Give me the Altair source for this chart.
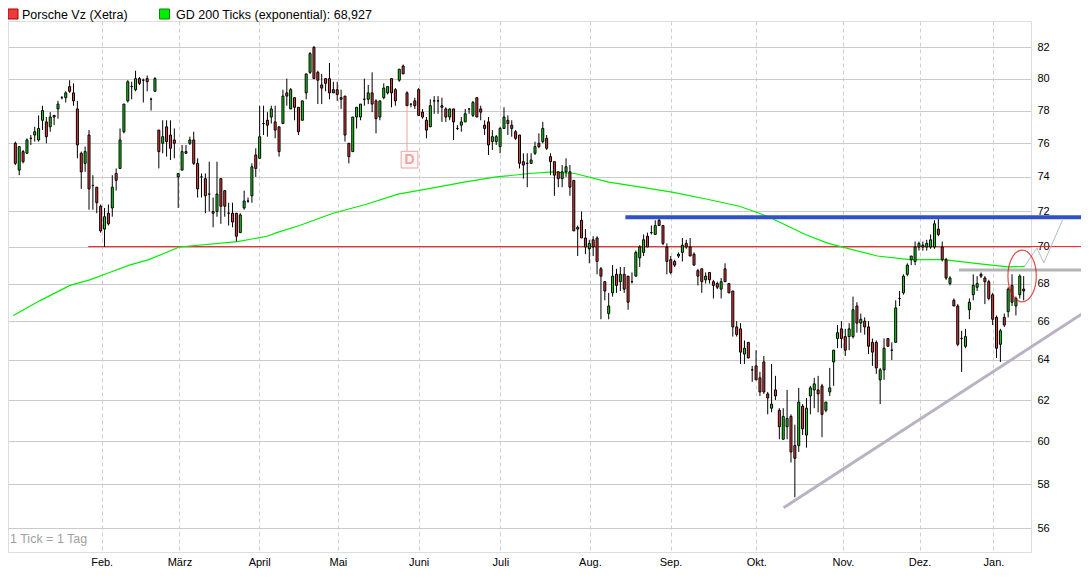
import altair as alt
import pandas as pd

# ---------------- candle data ----------------
opens = [76.0, 74.4, 75.5, 75.4, 76.3, 76.5, 76.2, 77.4, 77.3, 77.0,
         77.7, 78.1, 78.8, 78.8, 79.5, 79.1, 78.1, 75.4, 74.8, 76.5,
         73.5, 73.4, 72.3, 71.0, 71.9, 72.2, 74.2, 74.5, 76.7, 78.6,
         79.5, 79.3, 80.0, 79.9, 80.0, 78.7, 79.2, 76.8, 76.0, 77.0,
         76.5, 76.2, 74.0, 74.4, 75.5, 76.0, 76.2, 74.8, 74.0, 73.9,
         73.0, 72.0, 72.0, 73.9, 73.2, 71.9, 71.9, 71.9, 70.8, 72.2,
         72.6, 72.9, 75.3, 75.1, 77.2, 77.4, 77.6, 77.3, 77.0, 77.2,
         79.1, 78.1, 78.8, 78.2, 77.4, 79.1, 80.4, 82.0, 80.4, 79.6,
         80.0, 80.0, 79.3, 79.3, 78.8, 78.9, 76.0, 75.5, 77.6, 77.6,
         78.7, 78.7, 79.1, 78.6, 77.6, 78.8, 79.1, 80.0, 79.3, 79.9,
         80.8, 79.1, 78.4, 78.6, 79.3, 77.9, 77.4, 77.0, 78.6, 78.6,
         78.3, 78.1, 77.6, 78.1, 76.9, 77.1, 77.3, 78.1, 77.7, 78.8,
         78.1, 77.1, 77.3, 76.1, 76.1, 75.8, 76.9, 77.4, 77.1, 76.7,
         76.5, 74.9, 74.8, 74.8, 75.4, 76.0, 76.1, 76.3, 75.2, 74.9,
         74.3, 73.9, 74.3, 74.3, 73.8, 71.0, 71.5, 70.5, 69.9, 70.4,
         70.5, 68.8, 68.1, 66.4, 67.5, 68.5, 68.1, 68.5, 68.4, 68.1,
         68.4, 69.4, 69.7, 70.6, 70.8, 70.7, 71.5, 71.2, 70.0, 69.3,
         69.2, 69.5, 69.7, 70.2, 70.0, 69.6, 68.7, 68.8, 68.2, 68.6,
         68.1, 68.0, 67.7, 68.8, 68.0, 67.6, 65.7, 65.6, 64.3, 64.9,
         63.5, 63.7, 63.1, 63.9, 62.3, 61.6, 62.5, 61.5, 60.1, 60.7,
         61.2, 59.8, 59.8, 61.7, 60.3, 62.2, 62.5, 62.5, 62.7, 61.5,
         62.4, 63.9, 65.1, 65.6, 65.2, 65.2, 65.2, 66.8, 65.9, 66.0,
         65.7, 64.9, 64.9, 63.0, 63.5, 65.1, 64.5, 64.9, 67.2, 67.5,
         68.5, 69.3, 69.2, 70.0, 70.1, 70.0, 70.0, 70.0, 71.0, 70.0,
         69.3, 68.0, 67.1, 66.8, 65.1, 64.7, 66.6, 67.4, 67.8, 68.5,
         68.3, 68.1, 67.4, 66.2, 64.8, 66.2, 66.5, 67.9, 66.8, 67.4,
         67.7]
highs = [76.1, 75.8, 75.6, 76.3, 76.5, 77.0, 77.7, 78.3, 77.6, 77.9,
         77.7, 78.6, 78.9, 79.2, 79.9, 79.7, 78.6, 75.5, 75.8, 76.8,
         74.1, 73.4, 72.4, 72.2, 72.4, 74.1, 74.5, 76.9, 78.4, 79.9,
         79.8, 80.5, 80.1, 80.0, 80.2, 78.8, 80.1, 76.8, 77.4, 77.4,
         77.4, 76.9, 74.2, 75.9, 75.9, 76.4, 76.7, 75.1, 74.2, 74.2,
         74.9, 72.8, 74.9, 73.9, 73.2, 72.5, 72.5, 71.9, 71.9, 73.2,
         72.8, 74.8, 75.7, 78.3, 78.3, 77.9, 78.3, 78.3, 77.0, 79.3,
         80.0, 79.4, 78.8, 78.2, 78.6, 80.3, 81.7, 82.1, 80.5, 80.3,
         80.0, 81.0, 79.8, 79.8, 79.3, 78.9, 76.0, 77.6, 78.2, 78.4,
         80.0, 79.6, 80.4, 78.7, 78.6, 79.7, 79.5, 80.0, 79.4, 80.6,
         80.9, 79.2, 78.4, 78.8, 79.4, 78.1, 77.6, 78.7, 78.9, 78.9,
         78.8, 78.2, 78.1, 78.1, 77.1, 77.6, 78.1, 78.1, 78.6, 78.8,
         78.3, 77.4, 77.6, 76.8, 76.5, 77.0, 78.2, 77.7, 77.4, 76.8,
         76.5, 75.4, 75.4, 75.4, 76.1, 76.6, 77.3, 76.5, 75.4, 74.9,
         74.3, 74.7, 75.1, 74.7, 73.8, 71.2, 72.0, 71.0, 70.4, 70.6,
         70.6, 68.9, 68.1, 67.5, 69.0, 68.8, 68.9, 68.9, 68.4, 68.6,
         69.8, 70.1, 70.7, 70.8, 71.2, 71.5, 71.6, 71.2, 70.2, 69.5,
         69.3, 69.7, 70.5, 70.4, 70.5, 69.7, 68.8, 68.8, 68.6, 68.6,
         68.2, 68.1, 68.3, 69.1, 68.0, 67.6, 66.0, 65.9, 65.0, 64.9,
         63.7, 64.5, 63.4, 64.2, 62.4, 63.8, 63.2, 61.6, 61.6, 62.5,
         61.3, 60.8, 62.6, 61.8, 62.1, 62.7, 63.1, 63.2, 62.8, 61.9,
         63.6, 64.5, 65.8, 66.0, 65.6, 65.9, 67.3, 67.0, 66.4, 66.2,
         66.0, 65.1, 65.0, 63.6, 65.1, 65.1, 64.9, 67.1, 67.6, 68.5,
         69.1, 69.5, 70.3, 70.3, 70.3, 70.4, 70.7, 71.5, 71.6, 70.3,
         69.4, 68.4, 67.2, 66.9, 65.5, 65.6, 67.2, 68.5, 68.4, 68.6,
         68.4, 68.2, 67.5, 66.3, 65.6, 66.4, 67.8, 68.5, 67.3, 68.5,
         68.4]
lows = [74.7, 74.1, 74.8, 75.4, 75.9, 76.1, 76.1, 76.8, 76.0, 76.7,
        77.1, 77.5, 78.7, 78.5, 79.1, 78.3, 75.1, 73.3, 74.3, 72.1,
        72.1, 71.9, 70.8, 70.0, 71.2, 71.7, 73.2, 74.5, 76.6, 78.5,
        78.7, 79.2, 79.6, 78.5, 79.2, 78.0, 79.2, 74.5, 75.4, 75.2,
        75.0, 75.1, 72.2, 74.4, 75.4, 75.9, 74.7, 72.8, 72.8, 71.9,
        72.0, 71.1, 71.7, 71.3, 71.7, 71.2, 71.1, 70.3, 70.8, 72.1,
        72.5, 72.5, 74.0, 75.1, 76.5, 76.4, 77.2, 76.3, 75.2, 77.2,
        78.3, 78.1, 77.4, 76.5, 77.4, 78.7, 80.3, 80.0, 78.4, 78.4,
        79.2, 78.7, 79.1, 78.6, 78.1, 76.1, 74.8, 75.5, 76.9, 77.4,
        78.3, 78.4, 77.9, 76.6, 77.4, 78.7, 79.0, 78.2, 78.3, 79.8,
        80.3, 78.3, 78.2, 78.1, 77.7, 77.5, 76.3, 77.0, 77.8, 77.8,
        77.3, 77.3, 77.4, 76.2, 76.8, 76.7, 77.3, 77.8, 77.6, 77.6,
        77.4, 76.5, 75.3, 75.6, 75.9, 75.4, 76.9, 76.5, 76.4, 76.2,
        74.5, 73.9, 73.4, 74.8, 75.3, 75.7, 76.0, 75.6, 74.1, 72.9,
        73.4, 73.4, 74.0, 72.9, 70.9, 69.5, 70.5, 69.6, 69.1, 69.5,
        68.5, 66.1, 67.1, 66.1, 67.3, 67.5, 67.6, 67.5, 66.6, 68.0,
        68.4, 68.9, 69.5, 70.0, 70.7, 70.7, 71.2, 70.1, 68.5, 68.5,
        68.9, 69.4, 69.2, 69.9, 69.5, 69.0, 67.9, 67.5, 68.0, 68.0,
        67.2, 67.7, 67.2, 68.1, 67.5, 65.2, 65.2, 63.8, 63.8, 64.1,
        62.9, 63.0, 62.2, 62.3, 61.3, 61.4, 62.0, 60.1, 60.1, 60.1,
        59.0, 57.4, 59.5, 60.3, 59.7, 61.3, 61.6, 61.4, 60.2, 61.4,
        62.2, 62.7, 64.6, 64.6, 64.2, 64.5, 65.1, 65.4, 65.4, 65.3,
        64.3, 63.7, 63.3, 61.8, 63.0, 64.7, 64.0, 64.9, 66.8, 67.4,
        68.4, 69.0, 69.0, 69.8, 69.8, 69.8, 69.9, 69.9, 70.6, 69.2,
        68.2, 67.9, 66.8, 64.7, 63.4, 64.6, 66.1, 67.1, 67.6, 68.3,
        66.9, 67.1, 65.8, 64.1, 63.9, 65.7, 66.2, 66.8, 66.3, 67.2,
        67.1]
closes = [74.8, 75.8, 74.9, 76.2, 76.3, 76.7, 76.9, 78.0, 76.4, 77.6,
          77.6, 78.4, 78.8, 79.1, 79.2, 78.6, 75.9, 74.3, 75.5, 73.3,
          73.5, 72.5, 70.9, 71.7, 71.3, 73.4, 73.8, 76.2, 78.4, 79.8,
          79.5, 80.0, 79.7, 79.9, 79.8, 78.7, 80.0, 75.5, 76.4, 76.1,
          75.7, 76.0, 74.2, 75.5, 75.4, 76.2, 74.8, 73.3, 74.0, 72.9,
          73.0, 71.9, 73.0, 72.3, 72.3, 71.9, 71.4, 70.6, 71.8, 72.6,
          72.6, 74.6, 74.5, 76.4, 77.2, 77.1, 78.1, 76.8, 75.5, 78.9,
          78.9, 79.3, 78.2, 76.7, 78.6, 80.3, 81.6, 80.0, 79.9, 79.4,
          79.7, 79.1, 79.1, 79.0, 78.7, 76.5, 75.2, 77.6, 78.2, 78.4,
          78.7, 79.1, 78.4, 77.5, 78.6, 79.4, 79.5, 79.1, 78.6, 80.6,
          80.3, 78.3, 78.4, 78.3, 77.7, 77.6, 76.8, 78.3, 78.6, 78.6,
          78.2, 77.6, 78.1, 77.3, 76.9, 77.3, 77.8, 78.1, 78.5, 77.6,
          77.9, 76.9, 75.9, 76.4, 76.4, 76.9, 77.6, 77.2, 76.9, 76.3,
          74.8, 74.7, 74.8, 75.0, 75.8, 75.8, 76.9, 75.7, 74.9, 74.1,
          73.9, 74.3, 74.6, 73.4, 70.9, 71.1, 70.5, 70.0, 70.2, 70.0,
          69.2, 68.4, 67.6, 66.8, 68.4, 67.9, 68.5, 67.7, 67.0, 68.1,
          69.7, 70.0, 70.4, 70.0, 70.8, 71.2, 71.2, 70.2, 69.2, 68.6,
          69.0, 69.6, 70.1, 70.0, 69.5, 69.0, 68.4, 68.1, 68.4, 68.2,
          67.9, 67.8, 68.1, 68.1, 67.5, 65.7, 65.3, 64.4, 64.6, 64.1,
          63.5, 63.0, 62.4, 62.4, 62.1, 61.8, 62.2, 60.7, 61.2, 61.1,
          59.5, 59.2, 61.9, 60.6, 61.6, 62.6, 62.8, 62.3, 61.3, 61.9,
          62.6, 64.5, 65.4, 65.1, 64.5, 65.6, 66.6, 65.9, 66.1, 65.7,
          64.7, 64.4, 63.6, 63.5, 64.6, 64.7, 64.5, 66.7, 67.2, 68.4,
          69.0, 69.5, 70.0, 70.2, 70.0, 70.2, 70.4, 71.3, 70.7, 69.3,
          68.3, 68.3, 66.8, 64.8, 65.1, 65.2, 67.0, 67.9, 68.0, 68.4,
          68.1, 67.2, 66.1, 64.6, 65.5, 65.8, 67.7, 67.0, 67.2, 68.4,
          67.6]

# GD 200 (exponential) read at sample positions: tick index / price
gd_idx = [-0.5, 6.5, 14.1, 19.2, 24.3, 29.4, 34.4, 42.3, 57.3, 64.9, 67.4,
          73.3, 81.9, 90.3, 98.7, 108.8, 115.7, 124.0, 132.7, 138.5, 144.3,
          153.0, 161.3, 169.7, 178.4, 186.7, 191.8, 195.1, 203.7, 209.6,
          222.3, 230.6, 239.3, 247.6, 256.0, 260.3]
gd_val = [66.3, 67.1, 67.9, 68.2, 68.6, 69.0, 69.3, 70.0, 70.3, 70.6, 70.8,
          71.2, 71.9, 72.4, 73.0, 73.4, 73.7, 74.0, 74.2, 74.3, 74.2,
          73.7, 73.4, 73.1, 72.7, 72.3, 71.9, 71.6, 70.7, 70.2,
          69.5, 69.3, 69.3, 69.1, 68.9, 68.927]

# month axis
month_pos = [22.26, 42.31, 62.87, 83.17, 103.99, 125.06, 148.15, 168.96,
             191.04, 213.38, 233.17, 252.21]
month_names = ["Feb.", "März", "April", "Mai", "Juni", "Juli", "Aug.",
               "Sep.", "Okt.", "Nov.", "Dez.", "Jan."]
price_ticks = [56, 58, 60, 62, 64, 66, 68, 70, 72, 74, 76, 78, 80, 82]

# drawn annotations (tick index / price)
hline_start = [18.8, 157.3, 243.3]
hline_end = [285, 285, 285]
hline_price = [70.02, 71.67, 68.73]
trend_idx = [198.1, 275.3]
trend_price = [56.92, 66.42]
zig_idx = [260.3, 263.4, 265.2, 270.0]
zig_price = [68.95, 69.95, 69.12, 71.51]
circle_idx = [259.6]
circle_price = [68.41]
div_idx = [101]
div_top = [78.28]
div_box_top = [75.54]
div_box = [75.02]

legend_labels = ["Porsche Vz (Xetra)", "GD 200 Ticks (exponential): 68,927"]
note_text = ["1 Tick = 1 Tag"]

# ---------------- build tables ----------------
n = len(opens)
df = pd.DataFrame({"i": list(range(n)), "open": opens, "high": highs,
                   "low": lows, "close": closes})
df["dir"] = ["up" if c > o else ("down" if c < o else "flat")
             for o, c in zip(opens, closes)]

gd = pd.DataFrame({"i": gd_idx, "p": gd_val})
hl = pd.DataFrame({"x0": hline_start, "x1": hline_end, "p": hline_price,
                   "k": ["red", "blue", "gray"]})
tr = pd.DataFrame({"x0": [trend_idx[0]], "x1": [trend_idx[1]],
                   "p0": [trend_price[0]], "p1": [trend_price[1]]})
zz = pd.DataFrame({"i": zig_idx, "p": zig_price, "o": list(range(len(zig_idx)))})
cc = pd.DataFrame({"i": circle_idx, "p": circle_price})
dv = pd.DataFrame({"i": div_idx, "top": div_top, "btop": div_box_top,
                   "box": div_box, "t": ["D"]})

xs = alt.Scale(domain=[-0.6, 260.6], nice=False, zero=False)
ys = alt.Scale(type="log", domain=[54.96, 83.74], nice=False)

label_expr = "[" + ",".join("'" + m + "'" for m in month_names) + "][indexof([" + \
    ",".join(str(v) for v in month_pos) + "], datum.value)]"

x_axis = alt.Axis(values=month_pos, labelExpr=label_expr, grid=True,
                  gridColor="#cfcfcf", gridDash=[4, 3], ticks=False,
                  domain=False, labelFontSize=11, labelColor="#000000",
                  labelPadding=4, title=None, labelFlush=False,
                  labelOverlap=False, labelAngle=0)
y_axis = alt.Axis(orient="right", values=price_ticks, grid=True,
                  gridColor="#cacaca", ticks=False, domain=False,
                  labelPadding=6, labelFontSize=11, labelColor="#000000",
                  title=None, labelAlign="left", labelBaseline="middle",
                  labelFlush=False, format="d")


def X(field):
    return alt.X(field, scale=xs, axis=x_axis, title=None)


def Y(field):
    return alt.Y(field, scale=ys, axis=y_axis, title=None)


# red 70 line (under candles)
red_line = alt.Chart(hl[hl.k == "red"]).mark_rule(
    color="#ee1111", strokeWidth=1).encode(
    x=X("x0:Q"), x2="x1:Q", y=Y("p:Q"))

gd_line = alt.Chart(gd).mark_line(color="#00ee00", strokeWidth=1.2).encode(
    x=X("i:Q"), y=Y("p:Q"))

wicks = alt.Chart(df).mark_rule(color="#000000", strokeWidth=1).encode(
    x=X("i:Q"), y=Y("low:Q"), y2="high:Q")

bodies = alt.Chart(df).mark_bar(width=2, stroke="#000000",
                                strokeWidth=1).encode(
    x=X("i:Q"), y=Y("open:Q"), y2="close:Q",
    fill=alt.Fill("dir:N", scale=alt.Scale(
        domain=["up", "down", "flat"],
        range=["#14dc14", "#e83a3a", "#000000"]), legend=None))

blue_line = alt.Chart(hl[hl.k == "blue"]).mark_rule(
    color="#3050cc", strokeWidth=4).encode(
    x=X("x0:Q"), x2="x1:Q", y=Y("p:Q"))

gray_line = alt.Chart(hl[hl.k == "gray"]).mark_rule(
    color="#b4b4b4", strokeWidth=3).encode(
    x=X("x0:Q"), x2="x1:Q", y=Y("p:Q"))

trend = alt.Chart(tr).mark_rule(color="#bab2c2", strokeWidth=3).encode(
    x=X("x0:Q"), x2="x1:Q", y=Y("p0:Q"), y2="p1:Q")

zig = alt.Chart(zz).mark_line(color="#aebccc", strokeWidth=1).encode(
    x=X("i:Q"), y=Y("p:Q"), order="o:Q")

ellipse_path = ("M-1,0 C-1,-1.005 -0.552,-1.82 0,-1.82 "
                "C0.552,-1.82 1,-1.005 1,0 C1,1.005 0.552,1.82 0,1.82 "
                "C-0.552,1.82 -1,1.005 -1,0 Z")
circle = alt.Chart(cc).mark_point(shape=ellipse_path, filled=False,
                                  color="#e00000", size=806,
                                  strokeWidth=1.2).encode(
    x=X("i:Q"), y=Y("p:Q"))

div_rule = alt.Chart(dv).mark_rule(color="#eaa6a6", strokeWidth=1).encode(
    x=X("i:Q"), y=Y("top:Q"), y2="btop:Q")
div_box = alt.Chart(dv).mark_square(size=280, fill="#fff6f6",
                                    stroke="#eaa6a6", strokeWidth=1,
                                    opacity=1, xOffset=2.5).encode(
    x=X("i:Q"), y=Y("box:Q"))
div_text = alt.Chart(dv).mark_text(fontSize=14, fontWeight="bold",
                                   color="#f0a4a4", xOffset=2.5,
                                   baseline="middle", align="center").encode(
    x=X("i:Q"), y=Y("box:Q"), text="t:N")

leg_df1 = pd.DataFrame({"t": [legend_labels[0]]})
leg_df2 = pd.DataFrame({"t": [legend_labels[1]]})
leg_sq1 = alt.Chart(leg_df1).mark_square(size=100, fill="#ee3b3b",
                                         stroke="#b00000", strokeWidth=1,
                                         opacity=1).encode(
    x=alt.value(5), y=alt.value(-7))
leg_tx1 = alt.Chart(leg_df1).mark_text(align="left", baseline="middle",
                                       fontSize=12.5, color="#000000").encode(
    x=alt.value(14), y=alt.value(-6.5), text="t:N")
leg_sq2 = alt.Chart(leg_df2).mark_square(size=100, fill="#00ee00",
                                         stroke="#008800", strokeWidth=1,
                                         opacity=1).encode(
    x=alt.value(156.5), y=alt.value(-7))
leg_tx2 = alt.Chart(leg_df2).mark_text(align="left", baseline="middle",
                                       fontSize=12.5, color="#000000").encode(
    x=alt.value(168), y=alt.value(-6.5), text="t:N")

note = alt.Chart(pd.DataFrame({"t": note_text})).mark_text(
    align="left", baseline="middle", fontSize=12.5, color="#a0a0a0").encode(
    x=alt.value(2), y=alt.value(518), text="t:N")

chart = alt.layer(
    red_line, gd_line, wicks, bodies, blue_line, gray_line, trend, zig,
    circle, div_rule, div_box, div_text, leg_sq1, leg_tx1, leg_sq2, leg_tx2,
    note
).properties(
    width=1023, height=531,
    autosize=alt.AutoSizeParams(type="none"),
    padding={"left": 0, "top": 13, "right": 50, "bottom": 17},
    background="#ffffff"
).configure_view(
    stroke="#bbbbbb", strokeDash=[4, 2], strokeWidth=1
).configure(
    font="Liberation Sans"
)

chart.save("out.html", embed_options={"renderer": "svg", "actions": False})
